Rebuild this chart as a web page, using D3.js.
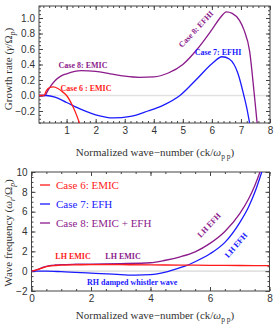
<!DOCTYPE html>
<html><head><meta charset="utf-8">
<script src="https://d3js.org/d3.v7.min.js"></script>
<style>body{margin:0;background:#fff}</style>
</head><body>
<script>
// growth rate (top panel)
var kG6 = [0.05, 0.22, 0.3, 0.4, 0.54, 0.7, 0.85, 1.0, 1.2, 1.35, 1.5];
var gamma6 = [0, 0, 0.06, 0.1, 0.11, 0.09, 0.05, 0, -0.13, -0.26, -0.42];
var kG7 = [0.05, 0.3, 0.6, 1.0, 1.5, 2.0, 2.6, 3.2, 3.8, 4.3, 4.9, 5.5, 6.0, 6.35, 6.6, 6.9, 7.1, 7.2, 7.3, 7.4];
var gamma7 = [0, 0, -0.02, -0.09, -0.18, -0.25, -0.29, -0.27, -0.2, -0.13, 0, 0.22, 0.41, 0.5, 0.47, 0.28, 0, -0.16, -0.36, -0.58];
var kG8 = [0.05, 0.26, 0.35, 0.45, 0.6, 0.8, 1.0, 1.5, 2.0, 2.5, 3.0, 3.5, 4.0, 4.5, 5.0, 5.5, 6.0, 6.3, 6.5, 6.7, 6.95, 7.1, 7.3, 7.45, 7.55, 7.65];
var gamma8 = [0, 0, 0.06, 0.12, 0.19, 0.25, 0.28, 0.32, 0.31, 0.28, 0.25, 0.235, 0.24, 0.29, 0.4, 0.6, 0.85, 1.01, 1.08, 1.06, 0.97, 0.85, 0.57, 0.05, -0.33, -0.7];

// real frequency (bottom panel)
var kF6 = [0, 0.2, 0.4, 0.6, 0.8, 1, 1.5, 2, 3, 4, 5, 6, 7, 8];
var omega6 = [0, 0.15, 0.36, 0.5, 0.57, 0.61, 0.64, 0.65, 0.65, 0.63, 0.61, 0.59, 0.57, 0.55];
var kF7 = [0, 0.5, 1, 2, 3, 3.5, 4, 4.5, 5, 5.2, 5.5, 6, 6.5, 7, 7.3, 7.5, 7.74, 8];
var omega7 = [0, 0, -0.05, -0.2, -0.35, -0.4, -0.35, -0.1, 0.35, 0.55, 0.95, 1.75, 2.9, 4.9, 6.5, 7.9, 10, 12.5];
var kF8 = [0, 0.2, 0.4, 0.6, 0.8, 1, 1.5, 2, 3, 4, 4.5, 5, 5.5, 6, 6.5, 7, 7.3, 7.5, 7.68, 8];
var omega8 = [0, 0.15, 0.4, 0.55, 0.62, 0.66, 0.7, 0.72, 0.76, 0.85, 1.1, 1.45, 1.95, 2.8, 4.0, 5.8, 7.3, 8.6, 10, 13];

var topXTicks = [1, 2, 3, 4, 5, 6, 7, 8];
var topYTicks = [-0.2, 0, 0.2, 0.4, 0.6, 0.8, 1.0];
var botXTicks = [0, 2, 4, 6, 8];
var botYTicks = [-2, 0, 2, 4, 6, 8, 10];

var cRed = "#ff1a1a", cBlue = "#1a1aff", cPurple = "#8b1a8b";

var svg = d3.select("body").append("svg").attr("width", 275).attr("height", 324)
  .style("font-family", "'Liberation Serif', serif");

var xTop = d3.scaleLinear().domain([0.05, 8]).range([39, 270]);
var yTop = d3.scaleLinear().domain([-0.355, 1.155]).range([123, 6]);
var xBot = d3.scaleLinear().domain([0, 8]).range([31.5, 269.5]);
var yBot = d3.scaleLinear().domain([-2, 10]).range([291, 172]);

function frame(id, x, y, xMaj, xMin, yMaj, yMin, xFmt, yFmt) {
  var x0 = x.range()[0], x1 = x.range()[1], y0 = y.range()[0], y1 = y.range()[1];
  svg.append("clipPath").attr("id", id).append("rect")
    .attr("x", x0).attr("y", y1).attr("width", x1 - x0).attr("height", y0 - y1);
  svg.append("line").attr("x1", x0).attr("x2", x1).attr("y1", y(0)).attr("y2", y(0))
    .attr("stroke", "#e2e2e2").attr("stroke-width", 1.6);

  function ax(a, tr, vals, size, fmt) {
    var g = svg.append("g").attr("transform", tr)
      .call(a.tickValues(vals).tickSize(size).tickPadding(4).tickFormat(fmt));
    g.select(".domain").remove();
    g.selectAll("line").attr("stroke", "#444");
    g.selectAll("text").attr("fill", "#333").style("font-family", "'Liberation Sans', Arial, sans-serif").style("font-size", "10px");
  }
  var none = function() { return ""; };
  ax(d3.axisBottom(x), "translate(0," + y0 + ")", xMaj, -4, xFmt);
  ax(d3.axisBottom(x), "translate(0," + y0 + ")", xMin, -2, none);
  ax(d3.axisTop(x), "translate(0," + y1 + ")", xMaj, -4, none);
  ax(d3.axisTop(x), "translate(0," + y1 + ")", xMin, -2, none);
  ax(d3.axisLeft(y), "translate(" + x0 + ",0)", yMaj, -4, yFmt);
  ax(d3.axisLeft(y), "translate(" + x0 + ",0)", yMin, -2, none);
  ax(d3.axisRight(y), "translate(" + x1 + ",0)", yMaj, -4, none);
  ax(d3.axisRight(y), "translate(" + x1 + ",0)", yMin, -2, none);

  svg.append("rect").attr("x", x0).attr("y", y1).attr("width", x1 - x0).attr("height", y0 - y1)
    .attr("fill", "none").attr("stroke", "#444").attr("stroke-width", 1);
}

function minor(dom, step) {
  var out = [];
  for (var v = Math.ceil(dom[0] / step) * step; v <= dom[1] + 1e-9; v += step) out.push(+v.toFixed(3));
  return out;
}

frame("clipTop", xTop, yTop, topXTicks, minor([0.05, 8], 0.2), topYTicks, minor([-0.355, 1.155], 0.05),
  d3.format("d"), d3.format(".1f"));
frame("clipBot", xBot, yBot, botXTicks, minor([0, 8], 0.5), botYTicks, minor([-2, 10], 0.5),
  d3.format("d"), d3.format("d"));

function curve(x, y, ks, vs, color, clip) {
  var line = d3.line().x(function(d) { return x(d[0]); }).y(function(d) { return y(d[1]); })
    .curve(d3.curveMonotoneX);
  svg.append("path").datum(d3.zip(ks, vs)).attr("d", line)
    .attr("fill", "none").attr("stroke", color).attr("stroke-width", 1.3)
    .attr("clip-path", "url(#" + clip + ")");
}

curve(xTop, yTop, kG8, gamma8, cPurple, "clipTop");
curve(xTop, yTop, kG7, gamma7, cBlue, "clipTop");
curve(xTop, yTop, kG6, gamma6, cRed, "clipTop");

curve(xBot, yBot, kF8, omega8, cPurple, "clipBot");
curve(xBot, yBot, kF7, omega7, cBlue, "clipBot");
curve(xBot, yBot, kF6, omega6, cRed, "clipBot");

// annotations
function note(txt, x, y, color, rot, anchor) {
  svg.append("text").attr("transform", "translate(" + x + "," + y + ") rotate(" + (rot || 0) + ")")
    .attr("text-anchor", anchor || "middle").attr("fill", color)
    .style("font-size", "8px").style("font-weight", "bold").text(txt);
}
note("Case 8: EMIC", 83, 68, cPurple);
note("Case 6 : EMIC", 86, 91, cRed);
note("Case 7: EFHI", 218, 55, cBlue);
note("Case 8: EFHI", 198, 31, cPurple, -47);
note("LH EMIC", 73, 259, cRed);
note("LH EMIC", 123, 259, cPurple);
note("RH damped whistler wave", 87, 285, cBlue, 0, "start");
note("LH EFH", 211, 227, cPurple, -47);
note("LH EFH", 238, 247, cBlue, -49);

// legend
var legNames = ["Case 6: EMIC", "Case 7: EFH", "Case 8: EMIC + EFH"];
var legColors = [cRed, cBlue, cPurple];
var legY = d3.scalePoint().domain(legNames).range([185, 223]);
legNames.forEach(function(n, i) {
  svg.append("line").attr("x1", 40).attr("x2", 50).attr("y1", legY(n)).attr("y2", legY(n))
    .attr("stroke", legColors[i]).attr("stroke-width", 1.3);
  svg.append("text").attr("x", 56).attr("y", legY(n) + 4).attr("fill", legColors[i])
    .style("font-size", "11px").text(n);
});

// axis titles
function xTitle(y) {
  var t = svg.append("text").attr("x", 155).attr("y", y).attr("text-anchor", "middle")
    .attr("fill", "#333").style("font-size", "11px");
  t.append("tspan").text("Normalized wave\u2212number (ck/");
  t.append("tspan").style("font-style", "italic").text("\u03c9");
  t.append("tspan").attr("dy", 2.5).style("font-size", "7.5px").text("p p");
  t.append("tspan").attr("dy", -2.5).text(")");
}
xTitle(156);
xTitle(319);

function yTitle(cy, main, num, sub) {
  var t = svg.append("text").attr("transform", "translate(12," + cy + ") rotate(-90)")
    .attr("text-anchor", "middle").attr("fill", "#333").style("font-size", "11px");
  t.append("tspan").text(main + " (");
  t.append("tspan").style("font-style", "italic").text(num[0]);
  if (num[1]) t.append("tspan").attr("dy", 2.5).style("font-size", "7.5px").style("font-style", "italic").text(num[1]);
  t.append("tspan").attr("dy", num[1] ? -2.5 : 0).text("/\u03a9");
  t.append("tspan").attr("dy", 2.5).style("font-size", "7.5px").style("font-style", "italic").text(sub);
  t.append("tspan").attr("dy", -2.5).text(")");
}
yTitle(69, "Growth rate", ["\u03b3"], "p");
yTitle(233, "Wave frequency", ["\u03c9", "r"], "p");
</script>
</body></html>
